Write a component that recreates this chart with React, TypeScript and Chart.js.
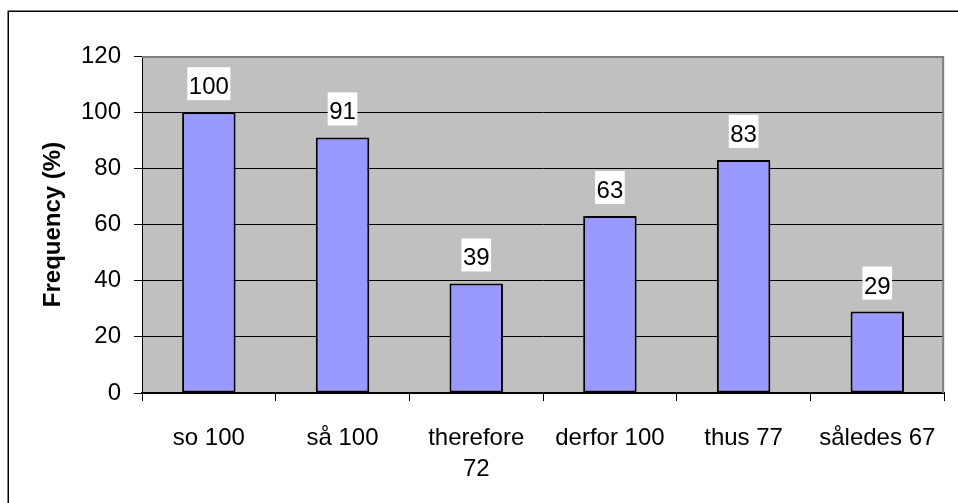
import React, { useEffect, useRef } from "react";
import { Chart, registerables } from "chart.js";

Chart.register(...registerables);

const categories: (string | string[])[] = [
  "so 100",
  "så 100",
  ["therefore", "72"],
  "derfor 100",
  "thus 77",
  "således 67",
];
const frequencies: number[] = [100, 91, 39, 63, 83, 29];
const yTicks = { min: 0, max: 120, step: 20 };
const yTitle = "Frequency (%)";

const FONT = "'Liberation Sans', Arial, Helvetica, sans-serif";

// Paints the white page, the grey plot area and the outer frame.
const backdrop = {
  id: "backdrop",
  beforeDraw(chart: any) {
    const { ctx, chartArea } = chart;
    ctx.save();
    ctx.fillStyle = "#ffffff";
    ctx.fillRect(0, 0, chart.width, chart.height);
    ctx.fillStyle = "#c0c0c0";
    ctx.fillRect(chartArea.left, chartArea.top, chartArea.right - chartArea.left, chartArea.bottom - chartArea.top);
    ctx.strokeStyle = "#000000";
    ctx.lineWidth = 1.5;
    ctx.strokeRect(8.25, 11.25, chart.width + 40, chart.height + 40);
    ctx.restore();
  },
  afterDraw(chart: any) {
    const { ctx, chartArea } = chart;
    ctx.save();
    ctx.strokeStyle = "#808080";
    ctx.lineWidth = 2;
    ctx.beginPath();
    ctx.moveTo(chartArea.left, chartArea.top + 1);
    ctx.lineTo(chartArea.right - 1, chartArea.top + 1);
    ctx.lineTo(chartArea.right - 1, chartArea.bottom);
    ctx.stroke();
    ctx.restore();
  },
};

// White-boxed value labels above each bar.
const valueLabels = {
  id: "valueLabels",
  afterDatasetsDraw(chart: any) {
    const { ctx } = chart;
    const meta = chart.getDatasetMeta(0);
    ctx.save();
    ctx.font = `24px ${FONT}`;
    ctx.textAlign = "center";
    ctx.textBaseline = "alphabetic";
    meta.data.forEach((bar: any, i: number) => {
      const text = String(chart.data.datasets[0].data[i]);
      const w = ctx.measureText(text).width + 3;
      const h = 33;
      const bottom = bar.y - 12;
      ctx.fillStyle = "#ffffff";
      ctx.fillRect(bar.x - w / 2, bottom - h, w, h);
      ctx.fillStyle = "#000000";
      ctx.fillText(text, bar.x, bottom - 6);
    });
    ctx.restore();
  },
};

export default function App() {
  const canvasRef = useRef<HTMLCanvasElement | null>(null);

  useEffect(() => {
    if (!canvasRef.current) return;
    const chart = new Chart(canvasRef.current, {
      type: "bar",
      data: {
        labels: categories,
        datasets: [
          {
            data: frequencies,
            backgroundColor: "#9999ff",
            borderColor: "#000000",
            borderWidth: 2,
            borderSkipped: false,
            barPercentage: 0.4,
            categoryPercentage: 1,
          },
        ],
      },
      options: {
        responsive: false,
        animation: false,
        devicePixelRatio: 1,
        layout: { padding: { left: 0, top: 56, right: 8, bottom: 0 } },
        plugins: {
          legend: { display: false },
          tooltip: { enabled: false },
        },
        scales: {
          x: {
            grid: {
              offset: true,
              drawOnChartArea: false,
              drawTicks: true,
              tickLength: 8,
              color: "#000000",
              tickColor: "#000000",
            },
            border: { color: "#000000", width: 2 },
            ticks: {
              color: "#000000",
              font: { family: FONT, size: 24, lineHeight: 1.3 },
              padding: 22,
              maxRotation: 0,
              minRotation: 0,
              autoSkip: false,
            },
            afterFit(scale: any) {
              scale.height = 110;
            },
          },
          y: {
            min: yTicks.min,
            max: yTicks.max,
            grid: {
              color: (c: any) => (c.tick && c.tick.value === yTicks.max ? "rgba(0,0,0,0)" : "#000000"),
              tickColor: "#000000",
              tickLength: 8,
              lineWidth: 1,
            },
            border: { color: "#000000", width: 1 },
            ticks: {
              stepSize: yTicks.step,
              color: "#000000",
              font: { family: FONT, size: 24 },
              padding: 13,
            },
            title: {
              display: true,
              text: yTitle,
              color: "#000000",
              font: { family: FONT, size: 24, weight: "bold" },
              padding: { top: 39, bottom: 0 },
            },
            afterFit(scale: any) {
              scale.width = 142;
            },
          },
        },
      },
      plugins: [backdrop, valueLabels],
    });
    return () => chart.destroy();
  }, []);

  return (
    <div style={{ position: "absolute", left: 0, top: 0, width: 958, height: 503 }}>
      <canvas ref={canvasRef} width={958} height={503} style={{ display: "block" }} />
    </div>
  );
}
